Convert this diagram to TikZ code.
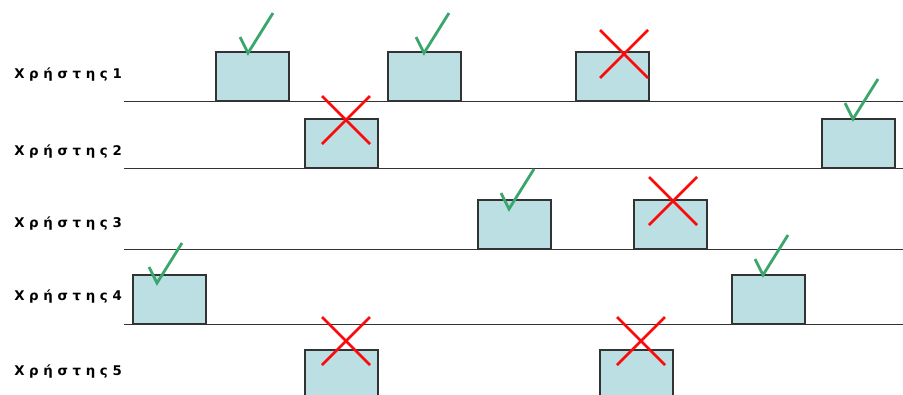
\documentclass[tikz,border=0pt]{standalone}
\usepackage{fontspec}
\setmainfont{DejaVu Sans}
\newfontfamily\userfont[LetterSpace=35]{DejaVu Sans}
\usepackage{tikz}
\usetikzlibrary{positioning}
\definecolor{slotblue}{RGB}{187,223,226}
\definecolor{okgreen}{RGB}{58,166,108}
\definecolor{nored}{RGB}{250,10,10}
\tikzset{
    % time slot of one user
    slot/.style={
        draw=black!80,
        fill=slotblue,
        line width=1.2pt,
        minimum width=55pt,
        minimum height=36.4pt,
        inner sep=0pt
    },
    trackline/.style={line width=1.4pt, black!80},
    rowlabel/.style={anchor=west, inner sep=0pt,
        font=\userfont\bfseries\fontsize{10}{12}\selectfont},
    okline/.style={line width=2.1pt, okgreen},
    noline/.style={line width=2pt, nored}
}
% tick: vertex at #1, cross: centre at #1
\newcommand{\okmark}[1]{\draw[okline] #1 ++(-8,-16) -- #1 -- ++(25,-40);}
\newcommand{\nomark}[1]{\draw[noline] #1 ++(-24,-24) -- ++(48,48) #1 ++(24,-24) -- ++(-48,48);}

\begin{document}
\begin{tikzpicture}[x=0.75pt,y=-0.75pt]
\useasboundingbox (0,0) rectangle (903,394);

% ===== user labels =====
\node[rowlabel] (u1) at (14,75)  {Χρήστης1};
\node[rowlabel] (u2) at (14,152) {Χρήστης2};
\node[rowlabel] (u3) at (14,224) {Χρήστης3};
\node[rowlabel] (u4) at (14,297) {Χρήστης4};
\node[rowlabel] (u5) at (14,372) {Χρήστης5};

% ===== time axes =====
\draw[trackline] (124,101.5) -- (903,101.5);
\draw[trackline] (124,168.5) -- (903,168.5);
\draw[trackline] (124,249.5) -- (903,249.5);
\draw[trackline] (124,324.5) -- (903,324.5);

% ===== slots =====
\node[slot,anchor=south west] (s1a) at (215,101.5) {};
\node[slot,anchor=south west] (s1b) at (387,101.5) {};
\node[slot,anchor=south west] (s1c) at (575,101.5) {};

\node[slot,anchor=south west] (s2a) at (304,168.5) {};
\node[slot,anchor=south west] (s2b) at (821,168.5) {};

\node[slot,anchor=south west] (s3a) at (477,249.5) {};
\node[slot,anchor=south west] (s3b) at (633,249.5) {};

\node[slot,anchor=south west] (s4a) at (132,324.5) {};
\node[slot,anchor=south west] (s4b) at (731,324.5) {};

\node[slot,anchor=north west] (s5a) at (304,349) {};
\node[slot,anchor=north west] (s5b) at (599,349) {};

% ===== successful slots =====
\okmark{(248,53)}
\okmark{(424,53)}
\okmark{(853,119)}
\okmark{(509,209)}
\okmark{(157,283)}
\okmark{(763,275)}

% ===== collisions =====
\nomark{(624,54)}
\nomark{(346,120)}
\nomark{(673,201)}
\nomark{(346,341)}
\nomark{(641,341)}

\end{tikzpicture}
\end{document}
